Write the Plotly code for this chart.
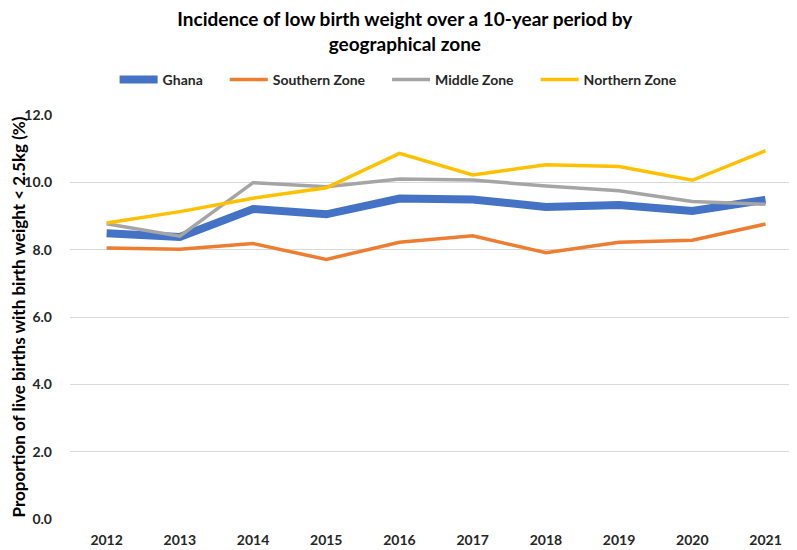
import plotly.graph_objects as go

# data
years = ["2012", "2013", "2014", "2015", "2016", "2017", "2018", "2019", "2020", "2021"]
ghana = [8.49, 8.38, 9.21, 9.05, 9.52, 9.49, 9.27, 9.33, 9.15, 9.48]
southern = [8.05, 8.01, 8.18, 7.71, 8.22, 8.41, 7.91, 8.22, 8.28, 8.76]
middle = [8.77, 8.40, 9.99, 9.87, 10.10, 10.07, 9.89, 9.75, 9.43, 9.35]
northern = [8.79, 9.13, 9.53, 9.84, 10.86, 10.22, 10.52, 10.47, 10.06, 10.94]

font_name = "Lato, Noto Sans, sans-serif"
pad = "\u00a0" * 5  # extra room between legend entries

fig = go.Figure()
fig.add_trace(go.Scatter(x=years, y=ghana, name="Ghana" + pad, mode="lines",
                         line=dict(color="#4472C4", width=8)))
fig.add_trace(go.Scatter(x=years, y=southern, name="Southern Zone" + pad, mode="lines",
                         line=dict(color="#ED7D31", width=3.5)))
fig.add_trace(go.Scatter(x=years, y=middle, name="Middle Zone" + pad, mode="lines",
                         line=dict(color="#A5A5A5", width=3.5)))
fig.add_trace(go.Scatter(x=years, y=northern, name="Northern Zone", mode="lines",
                         line=dict(color="#FFC000", width=3.5)))

# the page body keeps its 8px default margin, so the figure is sized to fit
fig.update_layout(
    width=789, height=542,
    margin=dict(l=62, r=0, t=107, b=31),
    plot_bgcolor="white", paper_bgcolor="white",
    font=dict(family=font_name, color="#262626", size=13),
    title=dict(text="<b>Incidence of low birth weight over a 10-year period by<br>geographical zone</b>",
               x=0.503, xanchor="center", y=0.967, yanchor="top",
               font=dict(size=19, color="#000000")),
    legend=dict(orientation="h", x=0.452, xanchor="center",
                y=1.087, yanchor="middle",
                font=dict(size=14, color="#262626", weight="bold"),
                itemwidth=38, tracegroupgap=0),
    showlegend=True,
)
fig.update_xaxes(type="category", range=[-0.5, 9.43], showgrid=False, showline=False,
                 ticks="", ticklabelstandoff=11, automargin=False,
                 tickfont=dict(size=14, weight="bold", color="#262626"))
fig.update_yaxes(range=[0, 12], dtick=2, tickformat=".1f", showgrid=True,
                 gridcolor="#D9D9D9", gridwidth=1, zeroline=False, showline=False,
                 ticks="", ticklabelstandoff=17, automargin=False,
                 tickfont=dict(size=14, weight="bold", color="#262626"),
                 title=dict(text="<b>Proportion of live births with birth weight < 2.5kg (%)</b>",
                            font=dict(size=17, color="#000000"), standoff=0))

fig.write_html("out.html", config={"displayModeBar": False})
